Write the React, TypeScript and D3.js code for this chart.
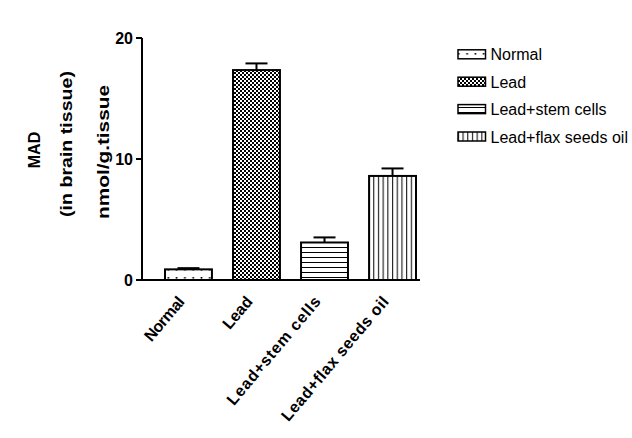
import React from "react";
import * as d3 from "d3";

const groups = ["Normal", "Lead", "Lead+stem cells", "Lead+flax seeds oil"];
const means = [0.88, 17.35, 3.1, 8.6];
const errors = [0.1, 0.55, 0.42, 0.62];
const patternIds = ["pNormal", "pLead", "pStem", "pFlax"];
const yTicks = [0, 10, 20];
// label lengths as drawn in the reference (letters are spaced out)
const xLabelLengths = [53, 37, 136, 157];

const W = 632;
const H = 438;
const font = "'Liberation Sans', Arial, sans-serif";

export default function App() {
  const x = d3.scaleBand<string>().domain(groups).range([165, 416]).paddingInner(0.31).paddingOuter(0);
  const y = d3.scaleLinear().domain([0, 20]).range([280, 38]);

  return (
    <svg width={W} height={H} style={{ position: "absolute", left: 0, top: 0, background: "#fff" }}>
      <defs>
        <pattern id="pNormal" patternUnits="userSpaceOnUse" width={8.3} height={8}>
          <rect width={8.3} height={8} fill="#fff" />
          <rect x={1.5} y={5} width={1.6} height={1.6} fill="#000" />
        </pattern>
        <pattern id="pLead" patternUnits="userSpaceOnUse" width={4} height={4}>
          <rect width={4} height={4} fill="#000" />
          <rect x={0} y={0} width={2} height={2} fill="#fff" />
          <rect x={2} y={2} width={2} height={2} fill="#fff" />
        </pattern>
        <pattern id="pStem" patternUnits="userSpaceOnUse" width={5} height={5}>
          <rect width={5} height={5} fill="#fff" />
          <rect x={0} y={2} width={5} height={1} fill="#000" />
        </pattern>
        <pattern id="pFlax" patternUnits="userSpaceOnUse" width={4.7} height={5}>
          <rect width={4.7} height={5} fill="#fff" />
          <rect x={2} y={0} width={1} height={5} fill="#000" />
        </pattern>
      </defs>

      {/* axes */}
      <line x1={142} x2={142} y1={y(20)} y2={y(0) + 1} stroke="#000" strokeWidth={2} />
      <line x1={141} x2={420} y1={y(0)} y2={y(0)} stroke="#000" strokeWidth={2} />
      {yTicks.map((t) => (
        <g key={t}>
          <line x1={136} x2={142} y1={y(t)} y2={y(t)} stroke="#000" strokeWidth={2} />
          <text x={133} y={y(t) + 6} textAnchor="end" fontFamily={font} fontWeight="bold" fontSize={16}>
            {t}
          </text>
        </g>
      ))}

      {/* y labels */}
      <text transform="translate(40,150) rotate(-90)" textAnchor="middle" fontFamily={font} fontWeight="bold" fontSize={16}>MAD</text>
      <text transform="translate(72,144) rotate(-90)" textAnchor="middle" fontFamily={font} fontWeight="bold" fontSize={17}
        textLength={146} lengthAdjust="spacingAndGlyphs">(in brain tissue)</text>
      <text transform="translate(109,152) rotate(-90)" textAnchor="middle" fontFamily={font} fontWeight="bold" fontSize={17}
        textLength={134} lengthAdjust="spacingAndGlyphs">nmol/g.tissue</text>

      {/* bars */}
      {groups.map((g, i) => {
        const bx = x(g)!;
        const bw = x.bandwidth();
        const cx = bx + bw / 2;
        return (
          <g key={g}>
            <line x1={cx} x2={cx} y1={y(means[i])} y2={y(means[i] + errors[i])} stroke="#000" strokeWidth={2} />
            <line x1={cx - 11} x2={cx + 11} y1={y(means[i] + errors[i])} y2={y(means[i] + errors[i])} stroke="#000" strokeWidth={2} />
            <rect x={bx} y={y(means[i])} width={bw} height={y(0) - y(means[i])} fill={`url(#${patternIds[i]})`} stroke="#000" strokeWidth={2} />
            <text transform={`translate(${cx - 3},302) rotate(-50)`} textAnchor="end" fontFamily={font} fontWeight="bold" fontSize={16}
              textLength={xLabelLengths[i]} lengthAdjust="spacing">
              {g}
            </text>
          </g>
        );
      })}

      {/* legend */}
      {groups.map((g, i) => {
        const ly = 54.3 + i * 27.4;
        return (
          <g key={g}>
            <rect x={458} y={ly - 4.5} width={27.5} height={9} fill={`url(#${patternIds[i]})`} stroke="#000" strokeWidth={1.5} />
            <text x={490.5} y={ly + 6} fontFamily={font} fontSize={16}>
              {g}
            </text>
          </g>
        );
      })}
    </svg>
  );
}
